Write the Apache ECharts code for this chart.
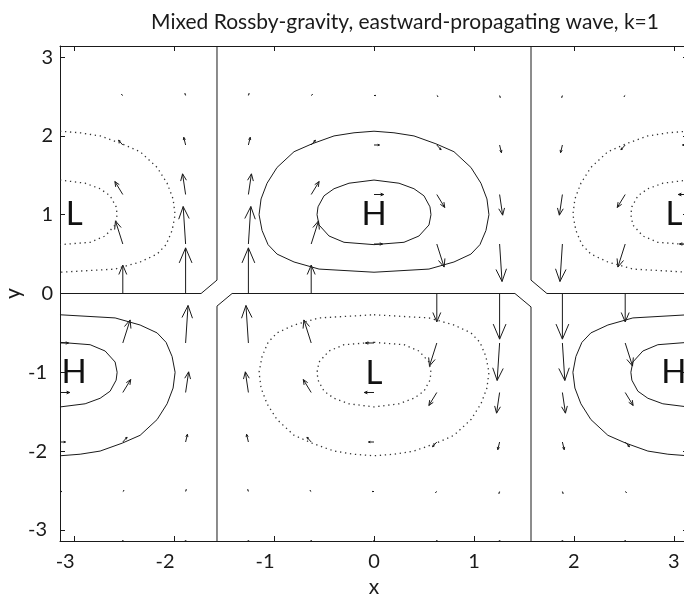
<!DOCTYPE html>
<html>
<head>
<meta charset="utf-8">
<script src="https://cdn.jsdelivr.net/npm/echarts@6/dist/echarts.min.js"></script>
<style>
  html, body { margin: 0; padding: 0; background: #fff; }
  #main { width: 684px; height: 599px; }
</style>
</head>
<body>
<div id="main"></div>
<script>
// todo ======================= data =======================
const PI = Math.PI
const FONT = 'Lato'

// quiver grid (-pi .. pi, step pi/5)
const gridX = [-3.1416, -2.5133, -1.885, -1.2566, -0.6283, 0, 0.6283, 1.2566, 1.885, 2.5133, 3.1416]
const gridY = [-3.1416, -2.5133, -1.885, -1.2566, -0.6283, 0, 0.6283, 1.2566, 1.885, 2.5133, 3.1416]

// eastward wind, one row per gridY value (bottom row first)
const uRows = [
  [0.01, 0.01, 0, 0, -0.01, -0.01, -0.01, 0, 0, 0.01, 0.01],
  [0.03, 0.02, 0.01, -0.01, -0.02, -0.03, -0.02, -0.01, 0.01, 0.02, 0.03],
  [0.09, 0.07, 0.03, -0.03, -0.07, -0.09, -0.07, -0.03, 0.03, 0.07, 0.09],
  [0.16, 0.13, 0.05, -0.05, -0.13, -0.16, -0.13, -0.05, 0.05, 0.13, 0.16],
  [0.14, 0.12, 0.04, -0.04, -0.12, -0.14, -0.12, -0.04, 0.04, 0.12, 0.14],
  [0, 0, 0, 0, 0, 0, 0, 0, 0, 0, 0],
  [-0.14, -0.12, -0.04, 0.04, 0.12, 0.14, 0.12, 0.04, -0.04, -0.12, -0.14],
  [-0.16, -0.13, -0.05, 0.05, 0.13, 0.16, 0.13, 0.05, -0.05, -0.13, -0.16],
  [-0.09, -0.07, -0.03, 0.03, 0.07, 0.09, 0.07, 0.03, -0.03, -0.07, -0.09],
  [-0.03, -0.02, -0.01, 0.01, 0.02, 0.03, 0.02, 0.01, -0.01, -0.02, -0.03],
  [-0.01, -0.01, 0, 0, 0.01, 0.01, 0.01, 0, 0, -0.01, -0.01],
]

// northward wind
const vRows = [
  [0, 0, 0.01, 0.01, 0, 0, 0, -0.01, -0.01, 0, 0],
  [0, 0.02, 0.04, 0.04, 0.02, 0, -0.02, -0.04, -0.04, -0.02, 0],
  [0, 0.1, 0.16, 0.16, 0.1, 0, -0.1, -0.16, -0.16, -0.1, 0],
  [0, 0.27, 0.43, 0.43, 0.27, 0, -0.27, -0.43, -0.43, -0.27, 0],
  [0, 0.48, 0.78, 0.78, 0.48, 0, -0.48, -0.78, -0.78, -0.48, 0],
  [0, 0.59, 0.95, 0.95, 0.59, 0, -0.59, -0.95, -0.95, -0.59, 0],
  [0, 0.48, 0.78, 0.78, 0.48, 0, -0.48, -0.78, -0.78, -0.48, 0],
  [0, 0.27, 0.43, 0.43, 0.27, 0, -0.27, -0.43, -0.43, -0.27, 0],
  [0, 0.1, 0.16, 0.16, 0.1, 0, -0.1, -0.16, -0.16, -0.1, 0],
  [0, 0.02, 0.04, 0.04, 0.02, 0, -0.02, -0.04, -0.04, -0.02, 0],
  [0, 0, 0.01, 0.01, 0, 0, 0, -0.01, -0.01, 0, 0],
]

// zero contour (solid)
const zeroLeft = [[-1.5708, 3.1416], [-1.5708, 0.17], [-1.73, 0], [-3.1416, 0]]
const zeroMid = [[-1.5708, -3.1416], [-1.5708, -0.16], [-1.42, 0], [1.41, 0], [1.5708, -0.17], [1.5708, -3.1416]]
const zeroRight = [[1.5708, 3.1416], [1.5708, 0.17], [1.73, 0], [3.1416, 0]]

// high at (0, 1), solid
const highInner = [[0, 0.62], [0.3, 0.65], [0.45, 0.73], [0.55, 0.87], [0.57, 1.0], [0.56, 1.1], [0.5, 1.24], [0.4, 1.33], [0.25, 1.4], [0, 1.44],
  [-0.25, 1.4], [-0.4, 1.33], [-0.5, 1.24], [-0.56, 1.1], [-0.57, 1.0], [-0.55, 0.87], [-0.45, 0.73], [-0.3, 0.65], [0, 0.62]]
const highOuter = [[0, 0.27], [0.55, 0.31], [0.8, 0.4], [0.97, 0.5], [1.06, 0.62], [1.12, 0.8], [1.15, 1.0], [1.13, 1.2], [1.07, 1.4], [0.97, 1.6],
  [0.8, 1.8], [0.62, 1.9], [0.4, 2.0], [0.2, 2.04], [0, 2.06], [-0.2, 2.04], [-0.4, 2.0], [-0.62, 1.9], [-0.8, 1.8], [-0.97, 1.6], [-1.07, 1.4],
  [-1.13, 1.2], [-1.15, 1.0], [-1.12, 0.8], [-1.06, 0.62], [-0.97, 0.5], [-0.8, 0.4], [-0.55, 0.31], [0, 0.27]]

// low at (0, -1), dotted
const lowInner = [[0, -0.62], [0.3, -0.65], [0.45, -0.73], [0.55, -0.87], [0.57, -1.0], [0.56, -1.1], [0.5, -1.24], [0.4, -1.33], [0.25, -1.4], [0, -1.44],
  [-0.25, -1.4], [-0.4, -1.33], [-0.5, -1.24], [-0.56, -1.1], [-0.57, -1.0], [-0.55, -0.87], [-0.45, -0.73], [-0.3, -0.65], [0, -0.62]]
const lowOuter = [[0, -0.27], [0.55, -0.31], [0.8, -0.4], [0.97, -0.5], [1.06, -0.62], [1.12, -0.8], [1.15, -1.0], [1.13, -1.2], [1.07, -1.4], [0.97, -1.6],
  [0.8, -1.8], [0.62, -1.9], [0.4, -2.0], [0.2, -2.04], [0, -2.06], [-0.2, -2.04], [-0.4, -2.0], [-0.62, -1.9], [-0.8, -1.8], [-0.97, -1.6], [-1.07, -1.4],
  [-1.13, -1.2], [-1.15, -1.0], [-1.12, -0.8], [-1.06, -0.62], [-0.97, -0.5], [-0.8, -0.4], [-0.55, -0.31], [0, -0.27]]

// lows at (-pi, 1) and (pi, 1), dotted
const lowWestInner = [[-3.1416, 1.44], [-2.89, 1.4], [-2.74, 1.33], [-2.64, 1.24], [-2.58, 1.1], [-2.57, 1.0], [-2.59, 0.87], [-2.69, 0.73], [-2.84, 0.65], [-3.1416, 0.62]]
const lowWestOuter = [[-3.1416, 2.06], [-2.94, 2.04], [-2.74, 2.0], [-2.52, 1.9], [-2.34, 1.8], [-2.17, 1.6], [-2.07, 1.4], [-2.01, 1.2], [-1.99, 1.0],
  [-2.02, 0.8], [-2.08, 0.62], [-2.17, 0.5], [-2.34, 0.4], [-2.59, 0.31], [-3.1416, 0.27]]
const lowEastInner = [[3.1416, 1.44], [2.89, 1.4], [2.74, 1.33], [2.64, 1.24], [2.58, 1.1], [2.57, 1.0], [2.59, 0.87], [2.69, 0.73], [2.84, 0.65], [3.1416, 0.62]]
const lowEastOuter = [[3.1416, 2.06], [2.94, 2.04], [2.74, 2.0], [2.52, 1.9], [2.34, 1.8], [2.17, 1.6], [2.07, 1.4], [2.01, 1.2], [1.99, 1.0],
  [2.02, 0.8], [2.08, 0.62], [2.17, 0.5], [2.34, 0.4], [2.59, 0.31], [3.1416, 0.27]]

// highs at (-pi, -1) and (pi, -1), solid
const highWestInner = [[-3.1416, -1.44], [-2.89, -1.4], [-2.74, -1.33], [-2.64, -1.24], [-2.58, -1.1], [-2.57, -1.0], [-2.59, -0.87], [-2.69, -0.73], [-2.84, -0.65], [-3.1416, -0.62]]
const highWestOuter = [[-3.1416, -2.06], [-2.94, -2.04], [-2.74, -2.0], [-2.52, -1.9], [-2.34, -1.8], [-2.17, -1.6], [-2.07, -1.4], [-2.01, -1.2], [-1.99, -1.0],
  [-2.02, -0.8], [-2.08, -0.62], [-2.17, -0.5], [-2.34, -0.4], [-2.59, -0.31], [-3.1416, -0.27]]
const highEastInner = [[3.1416, -1.44], [2.89, -1.4], [2.74, -1.33], [2.64, -1.24], [2.58, -1.1], [2.57, -1.0], [2.59, -0.87], [2.69, -0.73], [2.84, -0.65], [3.1416, -0.62]]
const highEastOuter = [[3.1416, -2.06], [2.94, -2.04], [2.74, -2.0], [2.52, -1.9], [2.34, -1.8], [2.17, -1.6], [2.07, -1.4], [2.01, -1.2], [1.99, -1.0],
  [2.02, -0.8], [2.08, -0.62], [2.17, -0.5], [2.34, -0.4], [2.59, -0.31], [3.1416, -0.27]]

// H / L markers
const markers = [[0, 1, 'H'], [0, -1.02, 'L'], [-3, 1, 'L'], [-3, -1, 'H'], [3, 1, 'L'], [3, -1, 'H']]

const tickValues = [-3, -2, -1, 0, 1, 2, 3]

// todo ======================= chart =======================
const myChart = echarts.init(document.getElementById('main'))

const INK = '#1a1a1a'
// 箭头长度缩放 (data units per wind unit)
const ARROW_SCALE = 0.61

const arrows = []
gridY.forEach((y, j) => {
  gridX.forEach((x, i) => {
    const u = uRows[j][i]
    const v = vRows[j][i]
    if (u === 0 && v === 0) return
    arrows.push([x, y, u, v])
  })
})

function renderArrow(params, api) {
  const x = api.value(0)
  const y = api.value(1)
  const p0 = api.coord([x, y])
  const p1 = api.coord([x + api.value(2) * ARROW_SCALE, y + api.value(3) * ARROW_SCALE])
  const dx = p1[0] - p0[0]
  const dy = p1[1] - p0[1]
  const len = Math.hypot(dx, dy)
  const style = { stroke: INK, lineWidth: 1, fill: null }
  if (len < 1.5) {
    return { type: 'rect', shape: { x: p0[0] - 0.8, y: p0[1] - 0.8, width: 1.6, height: 1.6 }, style: { fill: INK } }
  }
  // 箭头头部
  const hx = p1[0] - 0.33 * dx
  const hy = p1[1] - 0.33 * dy
  const wx = -dy * 0.14
  const wy = dx * 0.14
  return {
    type: 'group',
    children: [
      { type: 'line', shape: { x1: p0[0], y1: p0[1], x2: p1[0], y2: p1[1] }, style },
      { type: 'polyline', shape: { points: [[hx + wx, hy + wy], p1, [hx - wx, hy - wy]] }, style },
    ],
  }
}

function renderMarker(params, api) {
  const p = api.coord([api.value(0), api.value(1)])
  return {
    type: 'text',
    x: p[0],
    y: p[1],
    style: {
      text: markers[params.dataIndex][2],
      fontSize: 33,
      fontFamily: FONT,
      fill: '#111',
      align: 'center',
      verticalAlign: 'middle',
    },
  }
}

function contour(data, dotted) {
  return {
    type: 'line',
    data,
    showSymbol: false,
    symbol: 'none',
    silent: true,
    lineStyle: dotted
      ? { color: '#333', width: 1.3, type: [1.3, 3.7] }
      : { color: INK, width: 1, type: 'solid' },
  }
}

// 负数标签向左偏一点 (like the original)
function tickLabel(value) {
  return value < 0 ? '{neg|' + value + '}' : '{pos|' + value + '}'
}

const labelText = { color: INK, fontFamily: FONT, fontSize: 20 }

const axisCommon = {
  type: 'value',
  min: -PI,
  max: PI,
  axisLine: { show: true, onZero: false, lineStyle: { color: INK, width: 1 } },
  axisTick: { show: true, inside: true, length: 5, customValues: tickValues, lineStyle: { color: INK } },
  splitLine: { show: false },
}

const option = {
  animation: false,
  title: {
    text: 'Mixed Rossby-gravity, eastward-propagating wave, k=1',
    left: 400,
    top: 7,
    textAlign: 'center',
    textStyle: { color: INK, fontFamily: FONT, fontSize: 21, fontWeight: 'normal' },
  },
  grid: { left: 60, top: 46, width: 628, height: 495, containLabel: false, outerBoundsMode: 'none' },
  xAxis: [
    {
      ...axisCommon,
      position: 'bottom',
      name: 'x',
      nameLocation: 'middle',
      nameGap: 36,
      nameMoveOverlap: false,
      nameTextStyle: { color: INK, fontFamily: FONT, fontSize: 21 },
      axisLabel: {
        customValues: tickValues,
        margin: 11,
        formatter: tickLabel,
        rich: { neg: { ...labelText, padding: [0, 18, 0, 0] }, pos: { ...labelText } },
      },
    },
    { ...axisCommon, position: 'top', axisLabel: { show: false } },
  ],
  yAxis: [
    {
      ...axisCommon,
      position: 'left',
      name: 'y',
      nameLocation: 'middle',
      nameGap: 36,
      nameMoveOverlap: false,
      nameTextStyle: { color: INK, fontFamily: FONT, fontSize: 21 },
      axisLabel: {
        customValues: tickValues,
        margin: 7,
        formatter: tickLabel,
        rich: { neg: { ...labelText, padding: [0, 6, 0, 0] }, pos: { ...labelText } },
      },
    },
    { ...axisCommon, position: 'right', axisLabel: { show: false } },
  ],
  series: [
    contour(zeroLeft, false),
    contour(zeroMid, false),
    contour(zeroRight, false),
    contour(highInner, false),
    contour(highOuter, false),
    contour(lowInner, true),
    contour(lowOuter, true),
    contour(lowWestInner, true),
    contour(lowWestOuter, true),
    contour(lowEastInner, true),
    contour(lowEastOuter, true),
    contour(highWestInner, false),
    contour(highWestOuter, false),
    contour(highEastInner, false),
    contour(highEastOuter, false),
    {
      type: 'custom',
      renderItem: renderArrow,
      data: arrows,
      clip: true,
      silent: true,
    },
    {
      type: 'custom',
      renderItem: renderMarker,
      data: markers.map((m) => [m[0], m[1]]),
      clip: true,
      silent: true,
      z: 5,
    },
  ],
}

myChart.setOption(option)
</script>
</body>
</html>
